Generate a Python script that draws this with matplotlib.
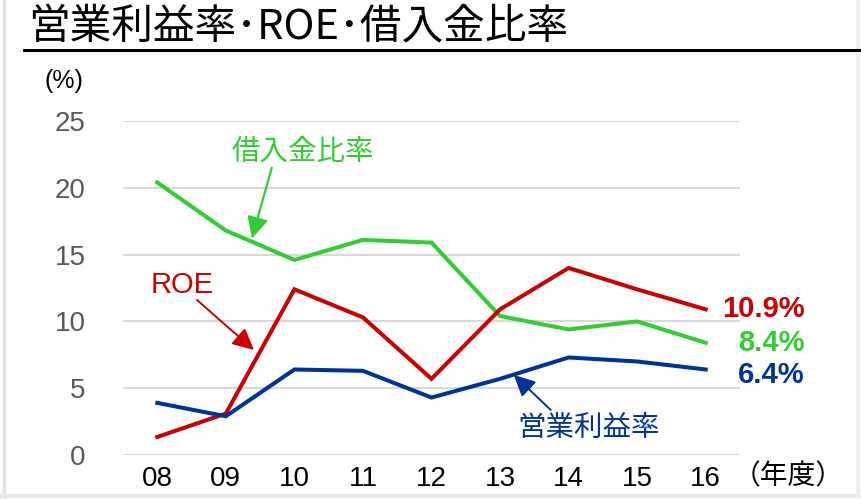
import matplotlib
matplotlib.use("Agg")
import matplotlib.pyplot as plt
from matplotlib.lines import Line2D
from matplotlib.patches import FancyArrowPatch

plt.rcParams['font.family'] = ['Noto Sans CJK JP', 'DejaVu Sans']

years = ["08", "09", "10", "11", "12", "13", "14", "15", "16"]
borrowing_ratio = [20.4, 16.8, 14.6, 16.1, 15.9, 10.4, 9.4, 10.0, 8.4]
roe = [1.35, 3.1, 12.4, 10.3, 5.7, 10.9, 14.0, 12.4, 10.9]
operating_margin = [3.9, 2.9, 6.4, 6.3, 4.3, 5.7, 7.3, 7.0, 6.4]
yticks = [0, 5, 10, 15, 20, 25]

GREEN = "#33cc33"
RED = "#cc0000"
BLUE = "#003399"
ARIAL = ["Liberation Sans", "DejaVu Sans"]

W, H = 861, 499
fig = plt.figure(figsize=(W / 100, H / 100), dpi=100)

# faint frame around the panel
fig.add_artist(Line2D([4 / W, 4 / W], [0, 1], color="#e4e4e4", lw=2.5))
fig.add_artist(Line2D([0, 1], [3 / H, 3 / H], color="#e8e8e8", lw=3))
fig.add_artist(Line2D([858 / W, 858 / W], [0, 1], color="#f0f0f0", lw=3))

# title and rule
fig.text(28 / W, 1 - 28 / H, "営業利益率･ROE･借入金比率", fontsize=30,
         color="black", ha="left", va="center")
fig.add_artist(Line2D([24 / W, 1], [1 - 50 / H, 1 - 50 / H], color="black", lw=2.2))

ax = fig.add_axes([123 / W, 1 - 455 / H, 617 / W, 334 / H])
x = list(range(len(years)))
ax.plot(x, borrowing_ratio, color=GREEN, lw=2.9, solid_joinstyle="miter", zorder=3)
ax.plot(x, roe, color=RED, lw=2.9, solid_joinstyle="miter", zorder=3)
ax.plot(x, operating_margin, color=BLUE, lw=2.9, solid_joinstyle="miter", zorder=3)

ax.set_xlim(-0.5, len(years) - 0.5)
ax.set_ylim(0, 25)
ax.set_yticks(yticks)
ax.set_yticklabels([str(v) for v in yticks], fontsize=20, color="#595959", family=ARIAL)
ax.set_xticks(x)
ax.set_xticklabels(years, fontsize=20, color="black", family=ARIAL)
ax.tick_params(axis="both", length=0)
ax.tick_params(axis="y", pad=27)
ax.tick_params(axis="x", pad=8)
for s in ax.spines.values():
    s.set_visible(False)
ax.grid(axis="y", color="#d9d9d9", lw=1.5)
ax.set_axisbelow(True)
ax.patch.set_alpha(0)

fig.text(44 / W, 1 - 81 / H, "(%)", fontsize=18, color="black", ha="left", va="center",
         family=ARIAL)
fig.text(733 / W, 1 - 476 / H, "（年度）", fontsize=20, color="black", ha="left", va="center")

# series labels
ax.text(2.12, 22.7, "借入金比率", color=GREEN, fontsize=20.5, ha="center", va="center")
ax.text(0.37, 12.7, "ROE", color=RED, fontsize=21, ha="center", va="center", family=ARIAL)
ax.text(6.29, 2.0, "営業利益率", color=BLUE, fontsize=20.5, ha="center", va="center")


def pointer(start, tip, color, lw):
    ax.add_patch(FancyArrowPatch(start, tip, arrowstyle="-|>,head_length=0.65,head_width=0.32",
                                 mutation_scale=20, color=color, lw=lw,
                                 shrinkA=0, shrinkB=0, zorder=4))


pointer((1.67, 21.5), (1.38, 16.2), GREEN, 1.6)
pointer((0.58, 11.6), (1.41, 7.86), RED, 1.4)
pointer((5.74, 3.37), (5.20, 6.0), BLUE, 1.4)

# latest-year values
for val, col, dy in [(roe[-1], RED, 0), (borrowing_ratio[-1], GREEN, 0),
                     (operating_margin[-1], BLUE, -4)]:
    ax.annotate(f"{val:.1f}%", xy=(x[-1], val), xytext=(71, dy), textcoords="offset points",
                color=col, fontsize=21, fontweight="bold", ha="right", va="center",
                family=ARIAL, annotation_clip=False)

fig.savefig("out.png", dpi=100, facecolor="white")
